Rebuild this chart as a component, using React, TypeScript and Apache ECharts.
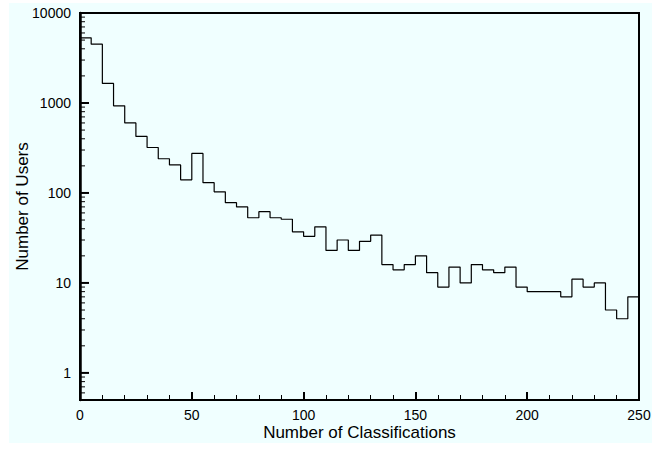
import React, { useEffect, useRef } from "react";
import * as echarts from "echarts";

// Histogram bins (left edges, width 5)
const binWidth = 5;
const binStarts = [
  0, 5, 10, 15, 20, 25, 30, 35, 40, 45,
  50, 55, 60, 65, 70, 75, 80, 85, 90, 95,
  100, 105, 110, 115, 120, 125, 130, 135, 140, 145,
  150, 155, 160, 165, 170, 175, 180, 185, 190, 195,
  200, 205, 210, 215, 220, 225, 230, 235, 240, 245,
];
const userCounts = [
  5300, 4500, 1650, 930, 600, 425, 320, 240, 205, 140,
  275, 130, 103, 78, 70, 53, 62, 53, 51, 37,
  33, 42, 23, 30, 23, 29, 34, 16, 14, 16,
  20, 13, 9, 15, 10, 16, 14, 13, 15, 9,
  8, 8, 8, 7, 11, 9, 10, 5, 4, 7,
];

// Axis ticks
const xMin = 0;
const xMax = 250;
const xMajorInterval = 50;
const yMin = 0.5;
const yMax = 10000;
const yDecades = [1, 10, 100, 1000, 10000];
const yMinorMultipliers = [2, 3, 4, 5, 6, 7, 8, 9];
const yMinorBelowOne = [0.6, 0.7, 0.8, 0.9];

const FONT = "'Liberation Sans', Arial, Helvetica, sans-serif";

export default function App() {
  const ref = useRef<HTMLDivElement>(null);

  useEffect(() => {
    if (!ref.current) return;
    const chart = echarts.init(ref.current, undefined, { renderer: "svg" });

    const stepData: number[][] = binStarts.map((x, i) => [x, userCounts[i]]);
    const last = binStarts.length - 1;
    stepData.push([binStarts[last] + binWidth, userCounts[last]]);

    const tickData: number[][] = [];
    yDecades.forEach((d) => tickData.push([xMin, d, 1]));
    yMinorBelowOne.forEach((v) => tickData.push([xMin, v, 0]));
    yDecades.forEach((d) => {
      yMinorMultipliers.forEach((m) => {
        const v = d * m;
        if (v < yMax) tickData.push([xMin, v, 0]);
      });
    });

    chart.setOption({
      animation: false,
      backgroundColor: "#F0FFFF",
      textStyle: { fontFamily: FONT },
      grid: {
        left: 71,
        right: 13,
        top: 10,
        bottom: 43,
        containLabel: false,
        outerBoundsMode: "none",
        show: true,
        borderColor: "#000",
        borderWidth: 2,
        backgroundColor: "transparent",
      },
      xAxis: {
        type: "value",
        min: xMin,
        max: xMax,
        interval: xMajorInterval,
        name: "Number of Classifications",
        nameLocation: "middle",
        nameGap: 24,
        nameMoveOverlap: false,
        nameTextStyle: { fontSize: 17, color: "#000", fontFamily: FONT },
        axisLine: { show: true, lineStyle: { color: "#000", width: 2 } },
        axisTick: { show: true, inside: true, length: 8, lineStyle: { color: "#000", width: 2 } },
        minorTick: { show: true, splitNumber: 5, length: 5, lineStyle: { color: "#000", width: 1 } },
        axisLabel: { color: "#000", fontSize: 14, margin: 8, fontFamily: FONT },
        splitLine: { show: false },
        minorSplitLine: { show: false },
      },
      yAxis: {
        type: "log",
        logBase: 10,
        min: yMin,
        max: yMax,
        name: "Number of Users",
        nameLocation: "middle",
        nameGap: 49,
        nameMoveOverlap: false,
        nameTextStyle: { fontSize: 17, color: "#000", fontFamily: FONT },
        axisLine: { show: true, lineStyle: { color: "#000", width: 2.5 } },
        axisTick: { show: false },
        minorTick: { show: false },
        axisLabel: {
          color: "#000",
          fontSize: 14,
          margin: 9,
          fontFamily: FONT,
          showMinLabel: false,
          formatter: (v: number) => (yDecades.indexOf(Math.round(v * 1000) / 1000) >= 0 ? String(Math.round(v)) : ""),
        },
        splitLine: { show: false },
      },
      series: [
        {
          type: "line",
          step: "end",
          data: stepData,
          symbol: "none",
          lineStyle: { color: "#000", width: 1.2 },
          z: 3,
        },
        {
          type: "custom",
          coordinateSystem: "cartesian2d",
          clip: false,
          silent: true,
          encode: { x: 0, y: 1 },
          dimensions: ["x", "y", "major"],
          data: tickData,
          z: 4,
          renderItem: (params: any, api: any) => {
            const p = api.coord([api.value(0), api.value(1)]);
            const major = api.value(2) === 1;
            return {
              type: "line",
              shape: { x1: p[0], y1: p[1], x2: p[0] + (major ? 9 : 5), y2: p[1] },
              style: { stroke: "#000", lineWidth: major ? 2 : 1, fill: "none" },
            };
          },
        },
      ],
    });

    return () => {
      chart.dispose();
    };
  }, []);

  return (
    <div
      ref={ref}
      style={{ position: "absolute", left: 9, top: 3, width: 643, height: 440 }}
    />
  );
}
